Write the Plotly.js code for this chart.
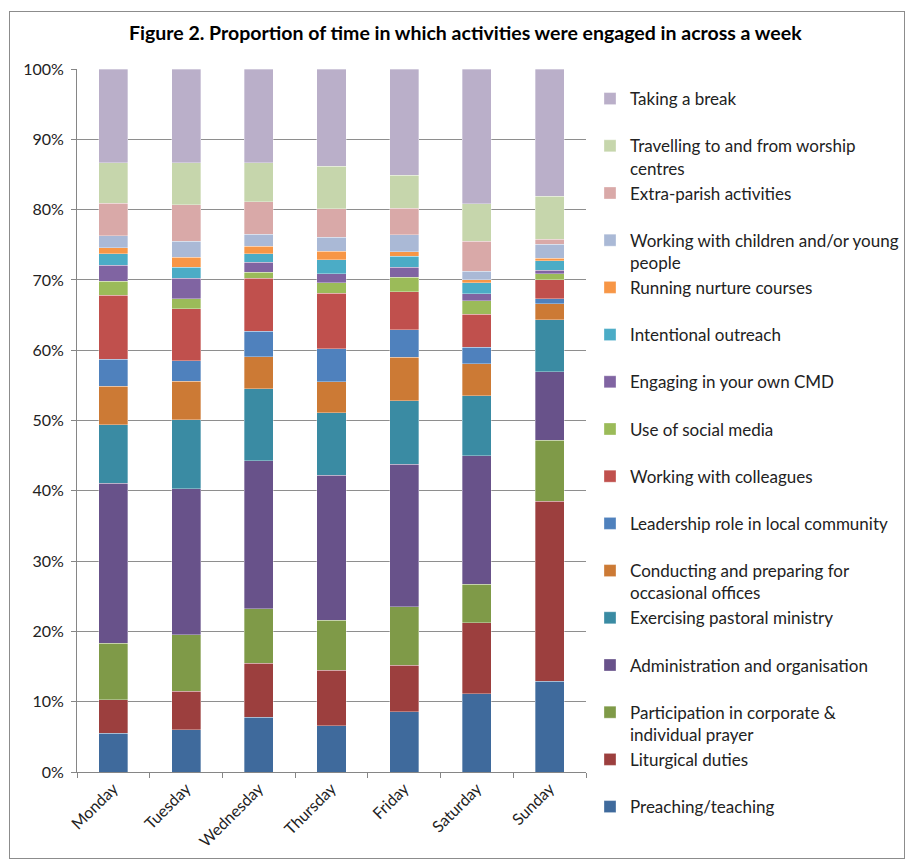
<!DOCTYPE html>
<html>
<head>
<meta charset="utf-8">
<script src="https://cdn.plot.ly/plotly-3.0.1.min.js"></script>
<style>
  html, body { margin: 0; padding: 0; background: #fff; }
  #wrap { position: relative; width: 907px; height: 863px; }
  #chart { position: absolute; left: 0; top: 0; width: 907px; height: 863px; }
  #frame { position: absolute; left: 9px; top: 11px; width: 894px; height: 846px; border: 1px solid #8c8c8c; pointer-events: none; }
</style>
</head>
<body>
<div id="wrap"><div id="chart"></div><div id="frame"></div></div>
<script>
const days = ["Monday", "Tuesday", "Wednesday", "Thursday", "Friday", "Saturday", "Sunday"];

const activities = [
  "Preaching/teaching",
  "Liturgical duties",
  "Participation in corporate &<br>individual prayer",
  "Administration and organisation",
  "Exercising pastoral ministry",
  "Conducting and preparing for<br>occasional offices",
  "Leadership role in local community",
  "Working with colleagues",
  "Use of social media",
  "Engaging in your own CMD",
  "Intentional outreach",
  "Running nurture courses",
  "Working with children and/or young<br>people",
  "Extra-parish activities",
  "Travelling to and from worship<br>centres",
  "Taking a break"
];

const colors = [
  "#3F6A9C", "#9C3F3E", "#7F9A48", "#68528A", "#3A8BA3", "#CC7A35",
  "#4F81BD", "#C0504D", "#9BBB59", "#8064A2", "#4BACC6", "#F79646",
  "#AAB9D6", "#D9A9A8", "#C6D6AC", "#BAAFC9"
];

// percentage of time, per activity, Monday..Sunday
const preaching   = [5.5, 6.0, 7.8, 6.6, 8.6, 11.1, 12.9];
const liturgical  = [4.8, 5.5, 7.7, 7.9, 6.6, 10.1, 25.6];
const prayer      = [8.0, 8.0, 7.7, 7.1, 8.3, 5.5, 8.7];
const admin       = [22.8, 20.8, 21.1, 20.6, 20.3, 18.3, 9.7];
const pastoral    = [8.3, 9.8, 10.2, 8.9, 9.0, 8.5, 7.4];
const occasional  = [5.5, 5.5, 4.6, 4.4, 6.2, 4.6, 2.3];
const leadership  = [3.8, 2.9, 3.6, 4.7, 3.9, 2.3, 0.7];
const colleagues  = [9.1, 7.4, 7.5, 7.9, 5.4, 4.7, 2.7];
const social      = [2.0, 1.4, 0.9, 1.5, 2.1, 1.9, 0.9];
const cmd         = [2.3, 2.9, 1.4, 1.3, 1.4, 1.0, 0.5];
const outreach    = [1.6, 1.6, 1.2, 2.0, 1.6, 1.6, 1.3];
const nurture     = [0.9, 1.4, 1.1, 1.2, 0.6, 0.4, 0.4];
const children    = [1.7, 2.3, 1.7, 2.0, 2.4, 1.2, 2.0];
const extraParish = [4.6, 5.2, 4.6, 4.0, 3.8, 4.3, 0.7];
const travelling  = [5.8, 6.0, 5.6, 6.1, 4.7, 5.3, 6.1];
const breakTime   = [13.3, 13.3, 13.3, 13.8, 15.1, 19.2, 18.1];

const series = [preaching, liturgical, prayer, admin, pastoral, occasional, leadership,
  colleagues, social, cmd, outreach, nurture, children, extraParish, travelling, breakTime];

const yTicks = [0, 10, 20, 30, 40, 50, 60, 70, 80, 90, 100];
const yTickText = yTicks.map(v => v + "%");

const FONT = "Lato, 'Open Sans', sans-serif";

const traces = series.map((vals, i) => {
  const name = activities[i].indexOf("<br>") >= 0 ? activities[i] : activities[i] + "<br> ";
  return {
    type: "bar",
    x: days,
    y: vals,
    name: name,
    marker: { color: colors[i], line: { width: 0.6, color: "rgba(255,255,255,0.55)" } },
    hovertemplate: activities[i].replace("<br>", " ") + ": %{y:.1f}%<extra></extra>"
  };
});

const layout = {
  width: 907,
  height: 863,
  margin: { l: 77, r: 321, t: 69, b: 91, pad: 0 },
  paper_bgcolor: "#ffffff",
  plot_bgcolor: "#ffffff",
  barmode: "stack",
  barnorm: "percent",
  bargap: 0.6,
  font: { family: FONT, size: 15, color: "#222" },
  title: {
    text: "<b>Figure 2. Proportion of time in which activities were engaged in across a week</b>",
    font: { family: FONT, size: 19.5, color: "#000" },
    x: 0.513, xanchor: "center", y: 0.961, yanchor: "middle"
  },
  xaxis: {
    type: "category",
    tickangle: -45,
    ticks: "outside",
    tickson: "boundaries",
    ticklen: 5,
    tickcolor: "#868686",
    showline: true,
    linecolor: "#868686",
    linewidth: 1,
    showgrid: false,
    tickfont: { family: FONT, size: 16, color: "#222" },
    fixedrange: true
  },
  yaxis: {
    range: [0, 100],
    tickvals: yTicks,
    ticktext: yTickText,
    ticks: "outside",
    ticklen: 5,
    tickcolor: "#868686",
    ticklabelstandoff: 4,
    showline: true,
    linecolor: "#868686",
    linewidth: 1,
    showgrid: true,
    gridcolor: "#8e8e8e",
    gridwidth: 1,
    zeroline: false,
    tickfont: { family: FONT, size: 16, color: "#222" },
    fixedrange: true
  },
  legend: {
    xref: "container", yref: "container",
    x: 0.6505, xanchor: "left",
    y: 0.9061, yanchor: "top",
    traceorder: "reversed",
    valign: "top",
    maxheight: 820,
    font: { family: FONT, size: 17, color: "#222" },
    itemwidth: 30,
    bgcolor: "rgba(0,0,0,0)"
  },
  showlegend: true
};

Plotly.newPlot("chart", traces, layout, { displayModeBar: false, staticPlot: true });
</script>
</body>
</html>
